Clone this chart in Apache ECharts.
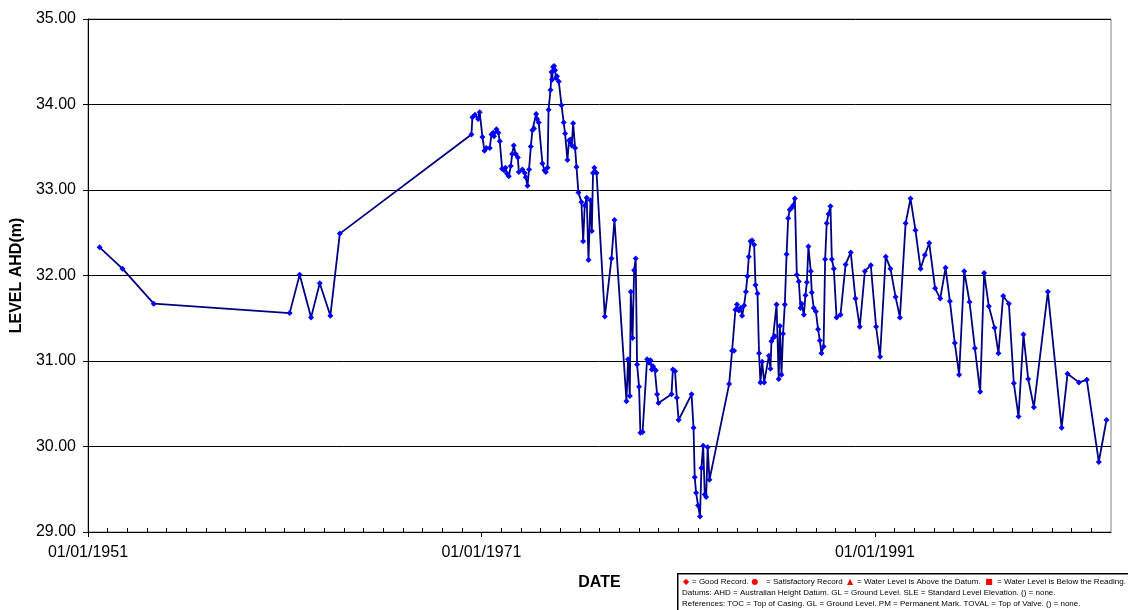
<!DOCTYPE html>
<html>
<head>
<meta charset="utf-8">
<script src="https://cdn.jsdelivr.net/npm/echarts@6/dist/echarts.min.js"></script>
<style>
html,body{margin:0;padding:0;background:#fff;}
#chart{width:1128px;height:610px;}
</style>
</head>
<body>
<div id="chart"></div>
<script>
// Decimal years of each reading
var years = [
1951.59,1952.75,1954.34,1961.25,1961.76,1962.34,1962.78,1963.32,1963.80,
1970.49,1970.54,1970.67,1970.83,1970.91,1971.05,1971.15,1971.25,1971.42,1971.51,1971.59,1971.64,1971.76,1971.86,1971.93,
1972.05,1972.15,1972.22,1972.30,1972.39,1972.49,1972.56,1972.64,1972.74,1972.85,1972.90,
1973.08,1973.20,1973.25,1973.34,1973.42,1973.51,1973.59,1973.67,1973.78,1973.83,1973.91,
1974.10,1974.20,1974.27,1974.36,1974.41,1974.51,1974.56,1974.59,1974.64,1974.69,1974.74,1974.79,1974.84,1974.93,
1975.07,1975.18,1975.25,1975.37,1975.45,1975.52,1975.59,1975.66,1975.76,1975.83,1975.93,
1976.08,1976.17,1976.25,1976.35,1976.44,1976.54,1976.61,1976.67,1976.74,1976.85,
1977.27,1977.61,1977.76,
1978.37,1978.45,1978.54,1978.59,1978.68,1978.76,1978.84,1978.91,
1979.01,1979.08,1979.19,1979.42,1979.52,1979.59,1979.66,1979.72,1979.81,1979.86,1979.93,
1980.00,1980.66,1980.73,1980.84,1980.93,1981.02,1981.68,1981.78,1981.84,1981.91,
1982.01,1982.11,1982.18,1982.27,1982.35,1982.42,1982.50,1982.59,
1983.59,1983.74,1983.84,1983.91,1983.99,
1984.08,1984.17,1984.25,1984.35,1984.44,1984.52,1984.59,1984.68,1984.76,1984.86,1984.93,
1985.03,1985.11,1985.18,1985.27,1985.37,1985.61,1985.69,1985.74,1985.82,1985.91,
1986.00,1986.11,1986.17,1986.25,1986.33,1986.42,1986.51,1986.59,1986.67,1986.76,1986.84,1986.93,
1987.03,1987.13,1987.22,1987.28,1987.39,1987.47,1987.54,1987.62,1987.74,1987.79,1987.89,
1988.00,1988.11,1988.20,1988.28,1988.39,1988.47,1988.55,1988.64,1988.74,1988.81,1988.91,
1989.05,1989.25,1989.51,1989.77,1990.01,1990.23,1990.49,1990.79,
1991.06,1991.26,1991.55,1991.79,1992.05,1992.27,1992.56,1992.81,
1993.06,1993.32,1993.54,1993.76,1994.06,1994.32,1994.59,1994.81,
1995.06,1995.28,1995.54,1995.81,1996.08,1996.35,1996.55,1996.79,
1997.08,1997.28,1997.52,1997.81,1998.06,1998.30,1998.55,1998.79,
1999.08,1999.79,2000.49,2000.79,2001.37,2001.77,2002.38,2002.77
];
// Water level AHD (m)
var levels = [
32.33,32.08,31.67,31.56,32.01,31.51,31.91,31.53,32.49,
33.65,33.85,33.88,33.83,33.91,33.62,33.46,33.49,33.49,33.65,33.67,33.63,33.71,33.67,33.57,
33.25,33.23,33.26,33.19,33.16,33.28,33.42,33.52,33.42,33.38,33.21,
33.24,33.20,33.15,33.05,33.24,33.51,33.70,33.72,33.89,33.83,33.79,
33.31,33.23,33.21,33.26,33.94,34.17,34.38,34.29,34.44,34.45,34.40,34.31,34.33,34.27,
33.99,33.79,33.66,33.35,33.58,33.59,33.52,33.78,33.49,33.27,32.97,
32.86,32.40,32.82,32.91,32.18,32.88,32.52,33.20,33.26,33.20,
31.52,32.20,32.65,
30.53,31.02,30.59,31.81,31.27,32.06,32.20,30.96,
30.70,30.16,30.17,31.02,30.98,31.01,30.90,30.94,30.90,30.89,30.61,
30.51,30.61,30.90,30.88,30.57,30.31,30.61,30.22,29.64,29.46,
29.31,29.18,29.75,30.01,29.44,29.41,29.99,29.61,
30.73,31.12,31.12,31.60,31.66,
31.59,31.62,31.53,31.65,31.81,31.99,32.22,32.40,32.41,32.36,31.89,
31.79,31.09,30.75,30.99,30.75,31.06,30.91,31.23,31.27,31.29,
31.66,30.79,31.41,30.84,31.32,31.66,32.25,32.67,32.77,32.79,32.82,32.90,
32.01,31.93,31.62,31.67,31.54,31.77,31.92,32.34,32.05,31.80,31.62,
31.58,31.37,31.24,31.09,31.17,32.19,32.61,32.72,32.81,32.19,32.08,
31.51,31.54,32.13,32.27,31.73,31.40,32.05,32.12,
31.40,31.05,32.22,32.08,31.75,31.51,32.61,32.90,
32.53,32.08,32.24,32.38,31.85,31.73,32.09,31.70,
31.21,30.84,32.05,31.69,31.15,30.64,32.03,31.64,
31.39,31.09,31.76,31.67,30.74,30.35,31.31,30.79,
30.46,31.81,30.22,30.85,30.75,30.78,29.82,30.31
];
// Axis ticks and labels
var majorYears = [1951, 1971, 1991];
var xLabelPrefix = '01/01/';
var yMin = 29, yMax = 35, yStep = 1;
var xMin = 1951, xMax = 2003;
var yTitle = 'LEVEL AHD(m)';
var xTitle = 'DATE';
var legendRow1 = [
  {sym: '\u25C6', text: '= Good Record.'},
  {sym: '\u25CF', text: '= Satisfactory Record'},
  {sym: '\u25B2', text: '= Water Level is Above the Datum.'},
  {sym: '\u25A0', text: '= Water Level is Below the Reading.'}
];
var legendRow2 = 'Datums: AHD = Australian Height Datum. GL = Ground Level. SLE = Standard Level Elevation. () = none.';
var legendRow3 = 'References: TOC = Top of Casing. GL = Ground Level. PM = Permanent Mark. TOVAL = Top of Valve. () = none.';

var minorYears = [];
for (var y = xMin + 1; y < xMax; y++) { if (majorYears.indexOf(y) < 0) minorYears.push(y); }

var seriesData = years.map(function (t, i) { return [t, levels[i]]; });

var FONT = '"Liberation Sans", Arial, sans-serif';
var chart = echarts.init(document.getElementById('chart'), null, {renderer: 'canvas'});

// legend box graphics
var symX = [686, 755, 850, 989];
var txtX = [692, 766, 857, 997];
var LF = '8px ' + FONT;
var g = [{
  type: 'rect', left: 677, top: 573, shape: {width: 470, height: 40},
  style: {fill: '#fff', stroke: '#000', lineWidth: 1.5}, z: 10
}];
legendRow1.forEach(function (it, i) {
  g.push({type: 'text', x: symX[i], y: 581.5, z: 11,
    style: {text: it.sym, fill: '#ff0000', font: '8px "DejaVu Sans", sans-serif', align: 'center', verticalAlign: 'middle'}});
  g.push({type: 'text', x: txtX[i], y: 581.5, z: 11,
    style: {text: it.text, fill: '#000', font: LF, verticalAlign: 'middle'}});
});
g.push({type: 'text', x: 682, y: 592.5, z: 11,
  style: {text: legendRow2, fill: '#000', font: LF, verticalAlign: 'middle'}});
g.push({type: 'text', x: 682, y: 603.5, z: 11,
  style: {text: legendRow3, fill: '#000', font: LF, verticalAlign: 'middle'}});

chart.setOption({
  animation: false,
  backgroundColor: '#fff',
  grid: {left: 88, right: 17, top: 19, bottom: 78, show: true, borderColor: '#808080', borderWidth: 1, containLabel: false},
  xAxis: [{
    type: 'value', min: xMin, max: xMax, interval: 1,
    axisLine: {show: true, lineStyle: {color: '#000', width: 1}},
    axisTick: {show: true, inside: true, length: 4, customValues: minorYears, lineStyle: {color: '#000'}},
    axisLabel: {show: false},
    splitLine: {show: false}
  }, {
    type: 'value', min: xMin, max: xMax, position: 'bottom', gridIndex: 0,
    axisLine: {show: false},
    axisTick: {show: true, inside: false, length: 5, customValues: majorYears, lineStyle: {color: '#000'}},
    axisLabel: {show: true, customValues: majorYears, margin: 13, color: '#000', fontSize: 16, fontFamily: FONT,
      formatter: function (v) { return xLabelPrefix + Math.round(v); }},
    splitLine: {show: false},
    name: xTitle, nameLocation: 'middle', nameGap: 43,
    nameTextStyle: {color: '#000', fontSize: 16, fontWeight: 'bold', fontFamily: FONT}
  }],
  yAxis: {
    type: 'value', min: yMin, max: yMax, interval: yStep,
    axisLine: {show: true, lineStyle: {color: '#000', width: 1}},
    axisTick: {show: true, inside: false, length: 5, lineStyle: {color: '#000'}},
    axisLabel: {color: '#000', fontSize: 16, fontFamily: FONT, margin: 12,
      formatter: function (v) { return v.toFixed(2); }},
    splitLine: {show: true, lineStyle: {color: '#000', width: 1}},
    name: yTitle, nameLocation: 'middle', nameGap: 55, nameRotate: 90,
    nameTextStyle: {color: '#000', fontSize: 16, fontWeight: 'bold', fontFamily: FONT}
  },
  series: [{
    type: 'line', xAxisIndex: 0, data: seriesData,
    symbol: 'diamond', symbolSize: 6, showSymbol: true,
    lineStyle: {color: '#000080', width: 1.8},
    itemStyle: {color: '#0000ff'},
    z: 5
  }],
  graphic: g
});
</script>
</body>
</html>
